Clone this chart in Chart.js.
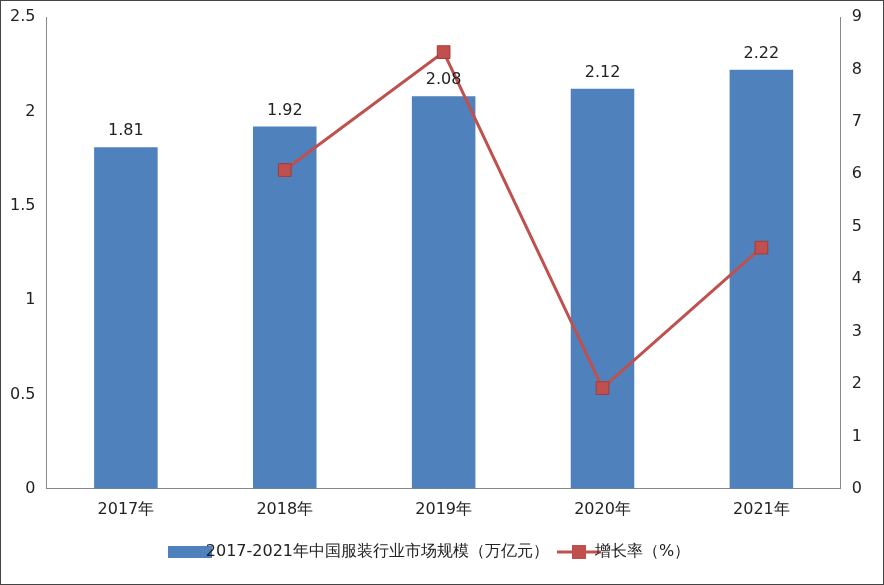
<!DOCTYPE html>
<html>
<head>
<meta charset="utf-8">
<script src="https://cdn.jsdelivr.net/npm/chart.js@4"></script>
<style>
body{margin:0;background:#fff;}
#wrap{position:absolute;left:0;top:0;width:882px;height:583px;border:1px solid #444;}
</style>
</head>
<body>
<div id="wrap"><canvas id="c" width="882" height="583"></canvas></div>
<script>
var years = ["2017年", "2018年", "2019年", "2020年", "2021年"];
var marketSize = [1.81, 1.92, 2.08, 2.12, 2.22];
var growthRate = [null, 6.08, 8.33, 1.92, 4.6];

// legend icons
function icon(kind) {
    var c = document.createElement("canvas");
    c.width = 44; c.height = 16;
    var g = c.getContext("2d");
    if (kind === "bar") {
        g.fillStyle = "#4f81bd";
        g.fillRect(0, 2, 44, 12);
    } else {
        g.strokeStyle = "#c0504d"; g.lineWidth = 3;
        g.beginPath(); g.moveTo(0, 8); g.lineTo(44, 8); g.stroke();
        g.fillStyle = "#c0504d";
        g.fillRect(15, 1, 14, 14);
    }
    return c;
}

// labels on top of the bars
var barLabels = {
    id: "barLabels",
    afterDatasetsDraw: function(chart) {
        var ctx = chart.ctx;
        var meta = chart.getDatasetMeta(1);
        ctx.save();
        ctx.font = "16px 'DejaVu Sans', sans-serif";
        ctx.fillStyle = "#222";
        ctx.textAlign = "center";
        ctx.textBaseline = "bottom";
        meta.data.forEach(function(bar, i) {
            ctx.fillText(marketSize[i].toFixed(2), bar.x, bar.y - 8);
        });
        ctx.restore();
    }
};

Chart.defaults.font.family = "'DejaVu Sans', sans-serif";
Chart.defaults.color = "#222";

new Chart(document.getElementById("c"), {
    type: "bar",
    data: {
        labels: years,
        datasets: [{
            type: "line",
            label: "增长率（%）",
            data: growthRate,
            yAxisID: "y1",
            borderColor: "#c0504d",
            backgroundColor: "#c0504d",
            borderWidth: 3,
            pointStyle: "rect",
            pointRadius: 9,
            pointBorderColor: "#a33d3a",
            pointBorderWidth: 1,
            order: 0
        }, {
            label: "2017-2021年中国服装行业市场规模（万亿元）",
            data: marketSize,
            yAxisID: "y",
            backgroundColor: "#4f81bd",
            barPercentage: 0.4,
            categoryPercentage: 1,
            order: 1
        }]
    },
    options: {
        responsive: false,
        animation: false,
        layout: {padding: {left: 6, right: 18, top: 16, bottom: 14}},
        plugins: {
            legend: {
                position: "bottom",
                reverse: true,
                labels: {
                    font: {size: 16},
                    usePointStyle: true,
                    padding: 22,
                    generateLabels: function(chart) {
                        var items = Chart.defaults.plugins.legend.labels.generateLabels(chart);
                        items.forEach(function(it) {
                            it.pointStyle = icon(it.datasetIndex === 0 ? "line" : "bar");
                        });
                        return items;
                    }
                }
            },
            tooltip: {enabled: false}
        },
        scales: {
            x: {
                grid: {display: false, drawTicks: true},
                border: {color: "#888"},
                ticks: {font: {size: 16}}
            },
            y: {
                position: "left",
                min: 0, max: 2.5,
                ticks: {stepSize: 0.5, font: {size: 16}, callback: function(v) { return String(v); }},
                grid: {display: false},
                border: {color: "#888"}
            },
            y1: {
                position: "right",
                min: 0, max: 9,
                ticks: {stepSize: 1, font: {size: 16}},
                grid: {display: false},
                border: {color: "#888"}
            }
        }
    },
    plugins: [barLabels]
});
</script>
</body>
</html>
